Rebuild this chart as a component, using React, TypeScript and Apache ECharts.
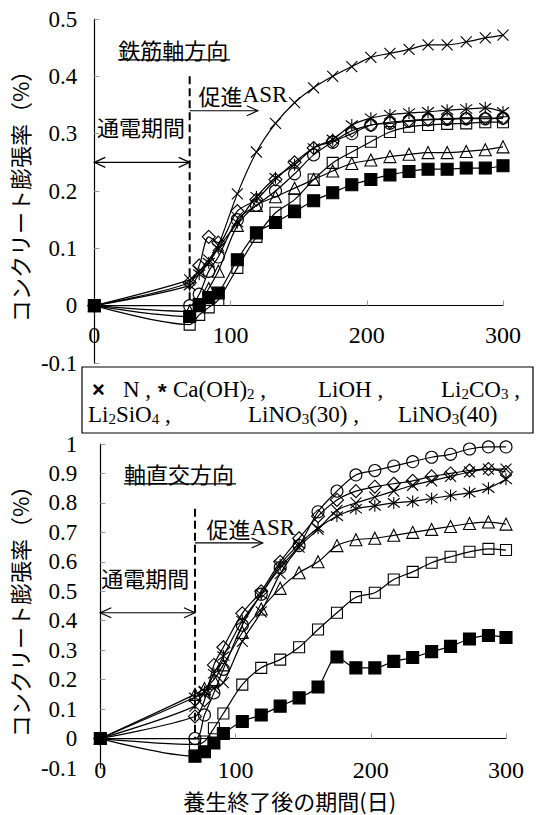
import { useEffect, useRef } from 'react';
import * as echarts from 'echarts';

// ---- data ----
const days = [0, 70, 77, 84, 91, 105, 119, 133, 147, 161, 175, 189, 203, 217, 231, 245, 259, 273, 287, 300];
const seriesNames = ['N', 'Ca(OH)2', 'LiOH', 'Li2CO3', 'Li2SiO4', 'LiNO3(30)', 'LiNO3(40)'];

// 鉄筋軸方向 (top panel)
const topN = [0, 0.045, 0.06, 0.08, 0.105, 0.195, 0.268, 0.318, 0.354, 0.38, 0.40, 0.417, 0.433, 0.44, 0.447, 0.455, 0.455, 0.46, 0.467, 0.472];
const topCaOH2 = [0, 0.035, 0.055, 0.075, 0.1, 0.145, 0.19, 0.223, 0.246, 0.275, 0.29, 0.315, 0.327, 0.333, 0.336, 0.338, 0.341, 0.343, 0.345, 0.338];
const topLiOH = [0, 0.04, 0.07, 0.12, 0.11, 0.165, 0.185, 0.22, 0.25, 0.275, 0.287, 0.305, 0.315, 0.32, 0.323, 0.325, 0.326, 0.327, 0.327, 0.327];
const topLi2CO3 = [0, 0, 0.02, 0.06, 0.085, 0.15, 0.175, 0.2, 0.23, 0.263, 0.285, 0.3, 0.315, 0.318, 0.322, 0.324, 0.325, 0.326, 0.326, 0.327];
const topLi2SiO4 = [0, -0.01, 0, 0.03, 0.06, 0.14, 0.175, 0.19, 0.205, 0.22, 0.235, 0.248, 0.254, 0.26, 0.264, 0.267, 0.267, 0.269, 0.272, 0.277];
const topLiNO330 = [0, -0.033, -0.016, -0.003, 0.01, 0.066, 0.12, 0.162, 0.185, 0.22, 0.249, 0.268, 0.286, 0.303, 0.312, 0.315, 0.317, 0.318, 0.32, 0.32];
const topLiNO340 = [0, -0.019, 0.002, 0.014, 0.022, 0.08, 0.127, 0.145, 0.164, 0.183, 0.197, 0.211, 0.22, 0.228, 0.234, 0.238, 0.238, 0.24, 0.24, 0.244];

// 軸直交方向 (bottom panel)
const botN = [0, 0.11, 0.16, 0.17, 0.19, 0.33, 0.43, 0.56, 0.65, 0.71, 0.775, 0.8, 0.82, 0.84, 0.86, 0.875, 0.89, 0.905, 0.915, 0.915];
const botCaOH2 = [0, 0.14, 0.16, 0.22, 0.28, 0.4, 0.49, 0.59, 0.66, 0.715, 0.755, 0.78, 0.79, 0.8, 0.805, 0.815, 0.825, 0.835, 0.85, 0.88];
const botLiOH = [0, 0.075, 0.13, 0.25, 0.31, 0.425, 0.5, 0.6, 0.68, 0.755, 0.81, 0.84, 0.855, 0.865, 0.875, 0.89, 0.9, 0.91, 0.915, 0.905];
const botLi2CO3 = [0, 0, 0.08, 0.155, 0.235, 0.385, 0.49, 0.58, 0.655, 0.77, 0.84, 0.895, 0.91, 0.925, 0.94, 0.955, 0.965, 0.983, 0.99, 0.99];
const botLi2SiO4 = [0, 0.15, 0.17, 0.2, 0.25, 0.36, 0.44, 0.51, 0.563, 0.6, 0.655, 0.675, 0.68, 0.69, 0.7, 0.71, 0.72, 0.73, 0.735, 0.728];
const botLiNO330 = [0, -0.02, -0.01, 0.035, 0.085, 0.183, 0.24, 0.268, 0.31, 0.37, 0.427, 0.48, 0.495, 0.54, 0.566, 0.597, 0.617, 0.634, 0.644, 0.64];
const botLiNO340 = [0, -0.06, -0.045, -0.015, 0.017, 0.058, 0.08, 0.11, 0.138, 0.175, 0.277, 0.24, 0.24, 0.262, 0.275, 0.295, 0.313, 0.338, 0.35, 0.343];

const topValues = [topN, topCaOH2, topLiOH, topLi2CO3, topLi2SiO4, topLiNO330, topLiNO340];
const botValues = [botN, botCaOH2, botLiOH, botLi2CO3, botLi2SiO4, botLiNO330, botLiNO340];

const currentDay = 70; // end of 通電期間
const asrArrowEnd = 120;
const xTicks = { min: 0, max: 300, interval: 100 };
const topY = { min: -0.1, max: 0.5, interval: 0.1 };
const botY = { min: -0.1, max: 1, interval: 0.1 };

// ---- styles ----
const symbols = [
  'path://M0,0L10,10M10,0L0,10',
  'path://M0,0L10,10M10,0L0,10M5,-1.5L5,11.5',
  'diamond',
  'circle',
  'triangle',
  'rect',
  'rect',
];
const symbolSizes = [11, 12, 13, 12, 12, 11, 12];
const filled = [false, false, false, false, false, false, true];

const SERIF = '"Liberation Serif", "Times New Roman", serif';
const GOTHIC = '"Noto Sans CJK JP", sans-serif';

const grids = [
  { left: 92, right: 33, top: 19, height: 344 },
  { left: 94, right: 30, top: 444, height: 324 },
];

export default function App() {
  const ref = useRef<HTMLDivElement>(null);

  useEffect(() => {
    document.body.style.margin = '0';
    if (!ref.current) return;
    const chart = echarts.init(ref.current, null, { renderer: 'svg' });

    const mkSeries = (gi: number, vals: number[], i: number) => ({
      type: 'line',
      name: seriesNames[i] + (gi ? '_b' : '_t'),
      xAxisIndex: gi,
      yAxisIndex: gi,
      data: days.map((d, k) => [d, vals[k]]),
      smooth: 0.3,
      symbol: symbols[i],
      symbolSize: symbolSizes[i],
      showAllSymbol: true,
      lineStyle: { color: '#000', width: 1.2 },
      itemStyle: {
        color: filled[i] ? '#000' : 'rgba(255,255,255,0)',
        borderColor: '#000',
        borderWidth: 1.1,
      },
      emphasis: { disabled: true },
      z: 3,
    });

    const yRanges = [topY, botY];
    const xAxis = [0, 1].map((gi) => {
      const r = yRanges[gi];
      // shift the x axis (line, ticks and labels) up to the y = 0 level
      const offset = -grids[gi].height * (0 - r.min) / (r.max - r.min);
      return {
        type: 'value',
        gridIndex: gi,
        ...xTicks,
        offset,
        axisLine: { show: true, onZero: false, lineStyle: { color: '#000', width: 1.2 } },
        axisTick: { show: true, inside: true, length: 5, lineStyle: { color: '#999' } },
        axisLabel: { margin: gi ? 19 : 17, fontFamily: SERIF, fontSize: 24, color: '#000' },
        splitLine: { show: false },
      };
    });

    const yAxis = yRanges.map((r, gi) => ({
      type: 'value',
      gridIndex: gi,
      ...r,
      name: 'コンクリート膨張率（%）',
      nameLocation: 'middle',
      nameGap: gi ? 57 : 55,
      nameTextStyle: { fontFamily: GOTHIC, fontSize: 22, color: '#000' },
      axisLine: { show: true, onZero: false, lineStyle: { color: '#000', width: 1.2 } },
      axisTick: { show: true, inside: true, length: 5, lineStyle: { color: '#999' } },
      axisLabel: { margin: gi ? 23 : 17, fontFamily: SERIF, fontSize: 23, color: '#000' },
      splitLine: { show: false },
    }));

    chart.setOption({
      animation: false,
      backgroundColor: '#fff',
      grid: grids,
      xAxis,
      yAxis,
      series: [
        ...topValues.map((v, i) => mkSeries(0, v, i)),
        ...botValues.map((v, i) => mkSeries(1, v, i)),
      ],
    });

    const P = (gi: number, x: number, y: number) =>
      chart.convertToPixel({ gridIndex: gi }, [x, y]) as number[];

    const els: any[] = [];
    const line = (a: number[], b: number[], extra: any = {}) =>
      els.push({
        type: 'line',
        shape: { x1: a[0], y1: a[1], x2: b[0], y2: b[1] },
        style: { stroke: '#000', lineWidth: 1.2, ...extra },
        z: 10,
      });
    const head = (p: number[], dir: number) =>
      els.push({
        type: 'polyline',
        shape: { points: [[p[0] - dir * 11, p[1] - 5], [p[0], p[1]], [p[0] - dir * 11, p[1] + 5]] },
        style: { stroke: '#000', lineWidth: 1.2, fill: 'none' },
        z: 10,
      });
    const text = (p: number[], str: string, style: any = {}) =>
      els.push({
        type: 'text',
        x: p[0],
        y: p[1],
        style: {
          text: str,
          fill: '#000',
          align: 'left',
          verticalAlign: 'middle',
          textAlign: 'left',
          textVerticalAlign: 'middle',
          ...style,
        },
        z: 10,
      });

    const panels = [
      { gi: 0, dashTop: 0.4, asrY: 0.34, dblY: 0.25, title: '鉄筋軸方向', titleP: [17.5, 0.448], asrP: [76.5, 0.368], tsP: [2, 0.314] },
      { gi: 1, dashTop: 0.78, asrY: 0.664, dblY: 0.427, title: '軸直交方向', titleP: [17.5, 0.902], asrP: [78.5, 0.715], tsP: [0.7, 0.549] },
    ];
    panels.forEach((pn) => {
      const g = pn.gi;
      line(P(g, currentDay, pn.dashTop), P(g, currentDay, 0), { lineWidth: 2, lineDash: [8, 4] });
      const a1 = P(g, currentDay, pn.asrY);
      const a2 = P(g, asrArrowEnd, pn.asrY);
      line(a1, a2);
      head(a2, 1);
      const d1 = P(g, 0, pn.dblY);
      const d2 = P(g, currentDay, pn.dblY);
      line(d1, d2);
      head(d1, -1);
      head(d2, 1);
      const tp = P(g, pn.titleP[0], pn.titleP[1]);
      text(tp, pn.title, { font: `22px ${GOTHIC}` });
      line([tp[0], tp[1] + 11], [tp[0] + 112, tp[1] + 11], { lineWidth: 1.2 });
      text(P(g, pn.asrP[0], pn.asrP[1]), '{a|促進}{b|ASR}', {
        rich: {
          a: { fontFamily: GOTHIC, fontSize: 22, fill: '#000' },
          b: { fontFamily: SERIF, fontSize: 23, fill: '#000' },
        },
      });
      text(P(g, pn.tsP[0], pn.tsP[1]), '通電期間', { font: `22px ${GOTHIC}` });
    });

    // legend box
    els.push({
      type: 'rect',
      shape: { x: 82, y: 367, width: 451, height: 66 },
      style: { fill: '#fff', stroke: '#000', lineWidth: 1.2 },
      z: 20,
    });
    const rich = {
      n: { fontFamily: SERIF, fontSize: 23, lineHeight: 24, verticalAlign: 'middle', fill: '#000' },
      s: { fontFamily: SERIF, fontSize: 15, lineHeight: 24, verticalAlign: 'bottom', fill: '#000' },
      m: { fontFamily: '"Liberation Sans", sans-serif', fontSize: 22, fontWeight: 'bold', lineHeight: 24, verticalAlign: 'middle', fill: '#000' },
    };
    const legendItems: [number, number, string][] = [
      [92, 389, '{m|×}'],
      [123, 389, '{n|N ,}'],
      [158, 391, '{m|*}'],
      [173, 389, '{n|Ca(OH)}{s|2}{n| ,}'],
      [318, 389, '{n|LiOH ,}'],
      [441, 389, '{n|Li}{s|2}{n|CO}{s|3}{n| ,}'],
      [88, 414, '{n|Li}{s|2}{n|SiO}{s|4}{n| ,}'],
      [248, 414, '{n|LiNO}{s|3}{n|(30) ,}'],
      [398, 414, '{n|LiNO}{s|3}{n|(40)}'],
    ];
    legendItems.forEach(([x, y, t]) => {
      els.push({
        type: 'text',
        x,
        y,
        style: { text: t, rich, align: 'left', verticalAlign: 'middle', textAlign: 'left', textVerticalAlign: 'middle' },
        z: 21,
      });
    });

    // x-axis title
    const xt = P(1, 140, -0.1);
    els.push({
      type: 'text',
      x: xt[0],
      y: xt[1] + 32,
      style: {
        text: '養生終了後の期間(日)',
        font: `22px ${GOTHIC}`,
        fill: '#000',
        align: 'center',
        verticalAlign: 'middle',
        textAlign: 'center',
        textVerticalAlign: 'middle',
      },
      z: 10,
    });

    chart.setOption({ graphic: els });

    return () => chart.dispose();
  }, []);

  return <div ref={ref} style={{ width: 536, height: 815 }} />;
}
